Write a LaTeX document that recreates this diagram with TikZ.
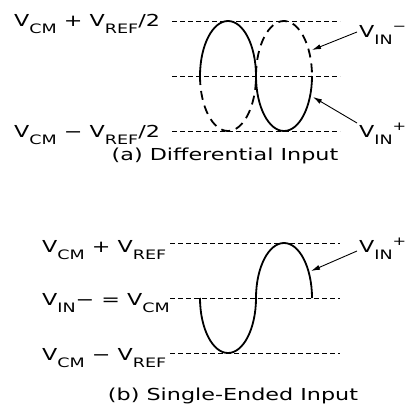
\documentclass[tikz,border=0pt]{standalone}
\usepackage{fontspec}
\setmainfont[FakeStretch=1.35]{DejaVu Sans}
\usetikzlibrary{arrows.meta}
\newcommand{\subtx}[1]{\raisebox{-7pt}{\fontsize{13}{13}\selectfont #1}}
\newcommand{\suptx}[1]{\raisebox{7pt}{\fontsize{12}{12}\selectfont #1}}

\begin{document}
\begin{tikzpicture}[x=1pt, y=-1pt, >={Latex[length=9pt,width=5pt]},
  lvl/.style={dash pattern=on 5pt off 3pt, line width=0.9pt},
  wave/.style={line width=1.8pt},
  dwave/.style={line width=1.8pt, dash pattern=on 9pt off 6pt},
  lbl/.style={anchor=base west, inner sep=0pt, font=\fontsize{16.5}{18}\selectfont},
  captxt/.style={anchor=base, inner sep=0pt, font=\fontsize{16.5}{18}\selectfont},
  ptr/.style={->, line width=0.9pt}]
  \useasboundingbox (0,0) rectangle (407,415);
  \draw[lvl] (172,21) -- (340,21);
  \draw[lvl] (172,76) -- (340,76);
  \draw[lvl] (172,131) -- (340,131);
  \draw[wave] (200,76) arc[start angle=180, end angle=360, x radius=28, y radius=55]
    arc[start angle=180, end angle=0, x radius=28, y radius=55];
  \draw[dwave] (200,76) arc[start angle=180, end angle=0, x radius=28, y radius=55]
    arc[start angle=180, end angle=360, x radius=28, y radius=55];
  \node[lbl] (topa) at (14,27) {V\subtx{CM} + V\subtx{REF}/2};
  \node[lbl] (bota) at (14,137) {V\subtx{CM} − V\subtx{REF}/2};
  \node[lbl] (vinm) at (359,37) {V\subtx{IN}\suptx{−}};
  \node[lbl] (vinpa) at (359,137) {V\subtx{IN}\suptx{+}};
  \coordinate (tipm) at (312,50);
  \coordinate (tippa) at (313,97);
  \draw[ptr] ([xshift=-2pt,yshift=5pt]vinm.base west) -- (tipm);
  \draw[ptr] ([xshift=-2pt,yshift=14pt]vinpa.base west) -- (tippa);
  \node[captxt] (capa) at (225,160) {(a) Differential Input};
  \draw[lvl] (170,243) -- (340,243);
  \draw[lvl] (170,298) -- (340,298);
  \draw[lvl] (170,353) -- (340,353);
  \draw[wave] (200,298) arc[start angle=180, end angle=0, x radius=28, y radius=55]
    arc[start angle=180, end angle=360, x radius=28, y radius=55];
  \node[lbl] (topb) at (42,252) {V\subtx{CM} + V\subtx{REF}};
  \node[lbl] (midb) at (42,305) {V\subtx{IN}− = V\subtx{CM}};
  \node[lbl] (botb) at (42,360) {V\subtx{CM} − V\subtx{REF}};
  \node[lbl] (vinpb) at (359,252) {V\subtx{IN}\suptx{+}};
  \coordinate (tippb) at (311,271);
  \draw[ptr] ([xshift=-2pt,yshift=1pt]vinpb.base west) -- (tippb);
  \node[captxt] (capb) at (233,400) {(b) Single-Ended Input};
\end{tikzpicture}
\end{document}
